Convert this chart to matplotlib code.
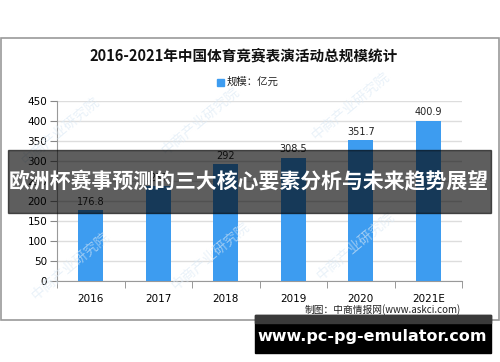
import matplotlib
matplotlib.use("Agg")
import matplotlib.pyplot as plt
from matplotlib.patches import Rectangle

plt.rcParams['font.family'] = ['Noto Sans CJK SC', 'DejaVu Sans']

# data (2017 label is hidden by the banner, estimated)
years = ["2016", "2017", "2018", "2019", "2020", "2021E"]
scale = [176.8, 237.0, 292.0, 308.5, 351.7, 400.9]
labels = ["176.8", "237", "292", "308.5", "351.7", "400.9"]
yticks = [0, 50, 100, 150, 200, 250, 300, 350, 400, 450]

title = "2016-2021年中国体育竞赛表演活动总规模统计"
legend_txt = "规模：亿元"
source = "制图：中商情报网(www.askci.com)"
banner = "欧洲杯赛事预测的三大核心要素分析与未来趋势展望"
site = "www.pc-pg-emulator.com"
watermark = "中商产业研究院"

W, H = 500, 362
BAR = "#3d9cf0"

fig = plt.figure(figsize=(W / 100, H / 100), dpi=100)


def fx(px):
    return px / W


def fy(py):
    return 1 - py / H


# outer chart frame
fig.patches.append(Rectangle((fx(1), fy(320)), fx(498), 282 / H, transform=fig.transFigure,
                             fill=False, edgecolor="#9a9a9a", lw=1.2, zorder=0))

ax = fig.add_axes([fx(57), fy(281), fx(405), 180 / H])
x = range(len(years))
ax.bar(x, scale, width=0.37, color=BAR, zorder=3)
for i, (v, t) in enumerate(zip(scale, labels)):
    ax.text(i, v + 9, t, ha="center", va="bottom", fontsize=7, color="#222222",
            family="DejaVu Sans", zorder=4)

ax.set_xlim(-0.5, len(years) - 0.5)
ax.set_ylim(0, 450)
ax.set_yticks(yticks)
ax.set_yticklabels([str(t) for t in yticks], fontsize=7.5, family="DejaVu Sans")
ax.set_xticks(list(x))
ax.set_xticklabels(years, fontsize=7.5, family="DejaVu Sans")
ax.set_xticks([i - 0.5 for i in range(len(years) + 1)], minor=True)
ax.tick_params(axis="x", which="major", length=0, pad=9)
ax.tick_params(axis="x", which="minor", length=5, color="#888888")
ax.tick_params(axis="y", length=5, color="#888888", pad=2)
ax.grid(axis="y", color="#dddddd", lw=1, zorder=0)
for s in ["top", "right"]:
    ax.spines[s].set_visible(False)
for s in ["left", "bottom"]:
    ax.spines[s].set_color("#999999")

fig.text(fx(244), fy(55), title, ha="center", va="center", fontsize=10.5,
         fontweight="bold", color="#111111")
fig.patches.append(Rectangle((fx(217), fy(86)), fx(7), 7 / H, transform=fig.transFigure,
                             color=BAR))
fig.text(fx(227), fy(82), legend_txt, ha="left", va="center", fontsize=7.5, color="#222222")
fig.text(fx(461), fy(310), source, ha="right", va="center", fontsize=7, color="#222222")

# faint watermarks
for wx, wy in [(60, 130), (200, 120), (350, 105), (70, 265), (210, 255), (355, 245)]:
    fig.text(fx(wx), fy(wy), watermark, ha="center", va="center", fontsize=10,
             rotation=40, color="#dbe9f5", alpha=0.6, zorder=10)

# dark banner with headline
fig.patches.append(Rectangle((fx(8), fy(213)), fx(483), 63 / H, transform=fig.transFigure,
                             color="black", alpha=0.63, zorder=20))
fig.text(fx(249), fy(182), banner, ha="center", va="center", fontsize=15,
         fontweight="bold", color="white", zorder=21)

# site box at the bottom
fig.patches.append(Rectangle((fx(255), fy(353)), fx(236), 38 / H, transform=fig.transFigure,
                             color="black", zorder=20))
fig.patches.append(Rectangle((fx(255), fy(323)), fx(236), 8 / H, transform=fig.transFigure,
                             color="#3a3a3a", zorder=21))
fig.text(fx(372), fy(337), site, ha="center", va="center", fontsize=11.5,
         fontweight="bold", color="white", family="DejaVu Sans", zorder=22)

fig.savefig("out.png", dpi=100)
